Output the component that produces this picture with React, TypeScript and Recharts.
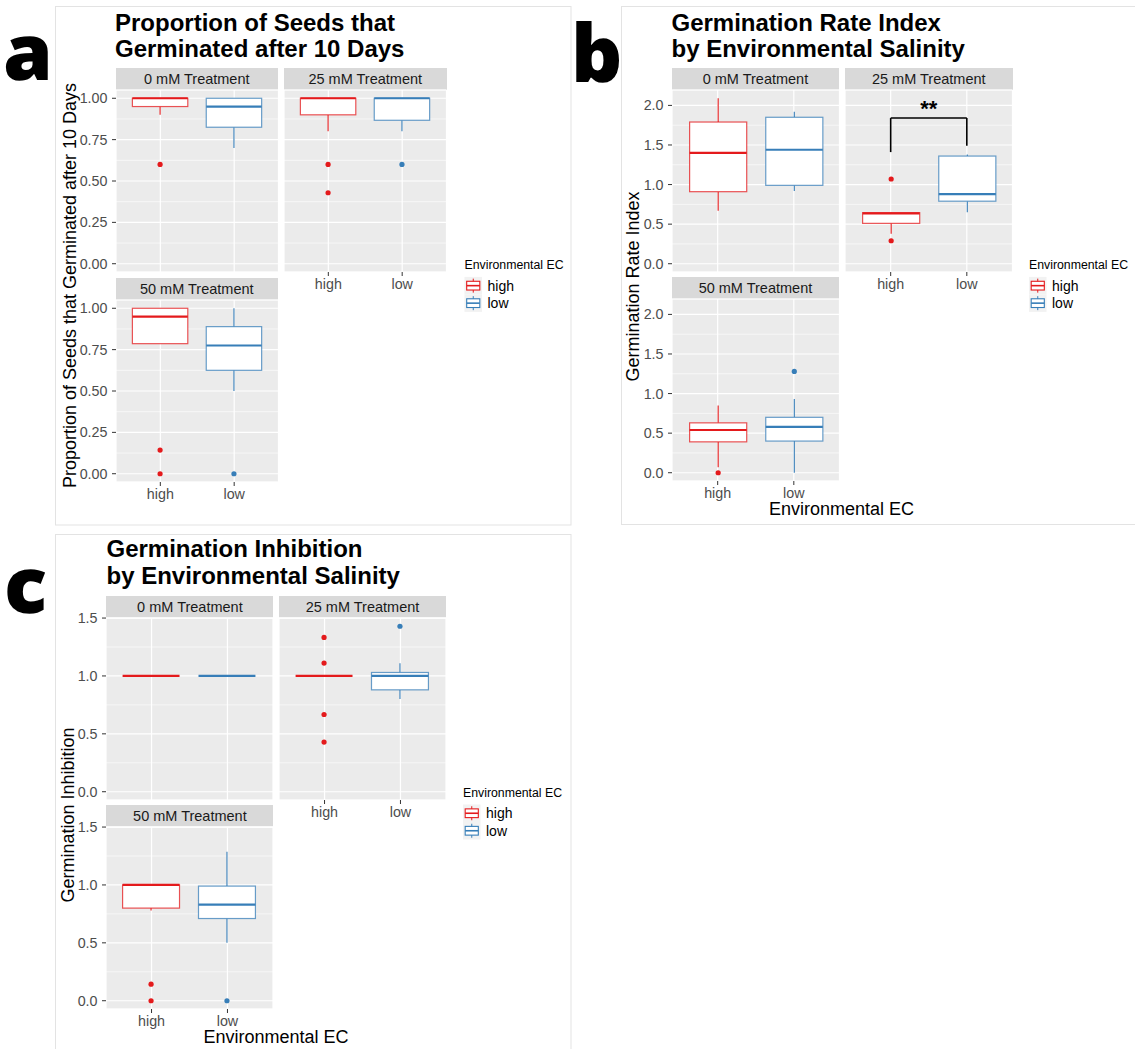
import React from 'react';
import { ComposedChart, Bar, XAxis, YAxis, CartesianGrid, ReferenceLine } from 'recharts';

const FONT = '"Liberation Sans", Arial, Helvetica, sans-serif';
const GROUPS = ['high', 'low'];
const GROUP_COLORS = ['#E41A1C', '#377EB8'];
const TREATMENTS = ['0 mM Treatment', '25 mM Treatment', '50 mM Treatment'];
const LEGEND_TITLE = 'Environmental EC';

// Box summaries per group (high, low): [lower whisker, q1, median, q3, upper whisker]
// (a) Proportion of seeds germinated after 10 days
const propGerm0 = [[0.9, 0.95, 1.0, 1.0, 1.0], [0.7, 0.825, 0.95, 1.0, 1.0]];
const propGerm0Out = [[0.6], []];
const propGerm25 = [[0.8, 0.9, 1.0, 1.0, 1.0], [0.8, 0.867, 1.0, 1.0, 1.0]];
const propGerm25Out = [[0.6, 0.429], [0.6]];
const propGerm50 = [[0.786, 0.786, 0.95, 1.0, 1.0], [0.5, 0.625, 0.775, 0.889, 1.0]];
const propGerm50Out = [[0.143, 0.0], [0.0]];
const propTicks = [0, 0.25, 0.5, 0.75, 1];
const propMinor = [0.125, 0.375, 0.625, 0.875];

// (b) Germination rate index
const rate0 = [[0.67, 0.91, 1.4, 1.79, 2.09], [0.92, 0.99, 1.44, 1.85, 1.92]];
const rate0Out = [[], []];
const rate25 = [[0.38, 0.51, 0.635, 0.645, 0.65], [0.65, 0.79, 0.88, 1.36, 1.38]];
const rate25Out = [[1.07, 0.29], []];
const rate50 = [[0.07, 0.39, 0.54, 0.63, 0.85], [0.0, 0.4, 0.58, 0.7, 0.93]];
const rate50Out = [[0.0], [1.28]];
const rateTicks = [0, 0.5, 1, 1.5, 2];
const rateMinor = [0.25, 0.75, 1.25, 1.75];
const rateBracket = [1.41, 1.84, 1.49]; // left leg end, bar height, right leg end
const rateSignif = '**';

// (c) Germination inhibition
const inhib0 = [[1, 1, 1, 1, 1], [1, 1, 1, 1, 1]];
const inhib0Out = [[], []];
const inhib25 = [[1, 1, 1, 1, 1], [0.8, 0.88, 1.0, 1.03, 1.11]];
const inhib25Out = [[1.333, 1.111, 0.667, 0.429], [1.429]];
const inhib50 = [[0.78, 0.8, 1.0, 1.0, 1.0], [0.5, 0.71, 0.83, 0.99, 1.286]];
const inhib50Out = [[0.143, 0.0], [0.0]];
const inhibTicks = [0, 0.5, 1, 1.5];
const inhibMinor = [0.25, 0.75, 1.25];

const STRIP_H = 22;
const PLOT_H = 182;
const Y_W = 44;
const X_H = 26;
const TOP_M = 10;
const TICK_FS = 14.3;

const LETTER_FACE = `@font-face {
  font-family: 'PanelLetter';
  src: local('Open Sans ExtraBold'), local('OpenSans-ExtraBold'), local('Open Sans'), local('OpenSans-Regular'), local('Open Sans Regular');
  font-weight: 300 800;
  ascent-override: 90%;
  descent-override: 24%;
  line-gap-override: 0%;
}`;

function buildRows(stats: number[][], outliers: number[][]) {
  return GROUPS.map((g, i) => ({
    group: g,
    color: GROUP_COLORS[i],
    lower: stats[i][0],
    q1: stats[i][1],
    median: stats[i][2],
    q3: stats[i][3],
    upper: stats[i][4],
    outliers: outliers[i],
    span: [0, 1],
  }));
}

function paddedDomain(list: number[][][]): [number, number] {
  const vals = list.flat(2);
  const lo = Math.min(...vals);
  const hi = Math.max(...vals);
  const pad = (hi - lo) * 0.05;
  return [lo - pad, hi + pad];
}

function BoxShape(props: any) {
  const { x, y, width, height, payload } = props;
  if (!payload) return null;
  const [r0, r1] = payload.span;
  const top = Math.min(y, y + height);
  const bottom = Math.max(y, y + height);
  const py = (v: number) => bottom - ((bottom - top) * (v - r0)) / (r1 - r0);
  const cx = x + width / 2;
  const c = payload.color;
  return (
    <g>
      <line x1={cx} x2={cx} y1={py(payload.upper)} y2={py(payload.q3)} stroke={c} strokeWidth={1.1} />
      <line x1={cx} x2={cx} y1={py(payload.q1)} y2={py(payload.lower)} stroke={c} strokeWidth={1.1} />
      <rect
        x={x}
        y={py(payload.q3)}
        width={width}
        height={Math.max(0, py(payload.q1) - py(payload.q3))}
        fill="#FFFFFF"
        stroke={c}
        strokeOpacity={0.75}
        strokeWidth={1.2}
      />
      <line x1={x} x2={x + width} y1={py(payload.median)} y2={py(payload.median)} stroke={c} strokeWidth={2.2} />
      {payload.outliers.map((o: number, i: number) => (
        <circle key={i} cx={cx} cy={py(o)} r={2.6} fill={c} />
      ))}
    </g>
  );
}

type PanelProps = {
  left: number;
  top: number;
  width: number;
  stats: number[][];
  outliers: number[][];
  domain: [number, number];
  ticks: number[];
  minor: number[];
  digits: number;
  title: string;
  showY: boolean;
  showX: boolean;
  bracket?: number[];
  signif?: string;
};

function Panel(p: PanelProps) {
  const rows = buildRows(p.stats, p.outliers);
  const pad = p.width * (2 * (0.6 / 2.2 - 0.25));
  const boxW = (0.75 * p.width) / 2.2;
  const yw = p.showY ? Y_W : 0;
  const lineStyle = { stroke: '#000000', strokeWidth: 1.6 };
  return (
    <div style={{ position: 'absolute', left: p.left - yw, top: p.top, width: p.width + yw, height: STRIP_H + PLOT_H + X_H }}>
      <div
        style={{
          position: 'absolute',
          left: yw,
          top: 0,
          width: p.width,
          height: STRIP_H,
          background: '#D9D9D9',
          color: '#1A1A1A',
          fontSize: 14.5,
          lineHeight: STRIP_H + 'px',
          textAlign: 'center',
          fontFamily: FONT,
        }}
      >
        {p.title}
      </div>
      <div style={{ position: 'absolute', left: 0, top: STRIP_H - TOP_M }}>
        <ComposedChart
          width={p.width + yw}
          height={TOP_M + PLOT_H + (p.showX ? X_H : 0)}
          data={rows}
          margin={{ top: TOP_M, right: 0, bottom: 0, left: 0 }}
          style={{ fontFamily: FONT }}
        >
          <CartesianGrid yAxisId="minor" vertical={false} stroke="#FFFFFF" strokeWidth={0.6} fill="#EBEBEB" fillOpacity={1} />
          <CartesianGrid stroke="#FFFFFF" strokeWidth={1.2} />
          <XAxis
            dataKey="group"
            type="category"
            padding={{ left: pad, right: pad }}
            hide={!p.showX}
            height={p.showX ? X_H : 0}
            axisLine={false}
            tickLine={{ stroke: '#333333' }}
            tickSize={4}
            tickMargin={2.5}
            tick={{ fill: '#4D4D4D', fontSize: TICK_FS }}
            interval={0}
          />
          <YAxis
            type="number"
            domain={p.domain}
            ticks={p.ticks}
            allowDataOverflow
            hide={!p.showY}
            width={Y_W}
            axisLine={false}
            tickLine={{ stroke: '#333333' }}
            tickSize={4}
            tickMargin={4.5}
            tick={{ fill: '#4D4D4D', fontSize: TICK_FS }}
            interval={0}
            tickFormatter={(v: number) => v.toFixed(p.digits)}
          />
          <YAxis yAxisId="minor" type="number" domain={p.domain} ticks={p.minor} allowDataOverflow hide interval={0} />
          <Bar dataKey="span" barSize={boxW} shape={BoxShape} isAnimationActive={false} />
          {p.bracket && (
            <ReferenceLine
              segment={[{ x: GROUPS[0], y: p.bracket[0] }, { x: GROUPS[0], y: p.bracket[1] }]}
              {...lineStyle}
              ifOverflow="visible"
            />
          )}
          {p.bracket && (
            <ReferenceLine
              segment={[{ x: GROUPS[0], y: p.bracket[1] }, { x: GROUPS[1], y: p.bracket[1] }]}
              {...lineStyle}
              ifOverflow="visible"
              label={{ value: p.signif, position: 'top', offset: 2, fill: '#000000', fontSize: 22, fontWeight: 'bold' }}
            />
          )}
          {p.bracket && (
            <ReferenceLine
              segment={[{ x: GROUPS[1], y: p.bracket[1] }, { x: GROUPS[1], y: p.bracket[2] }]}
              {...lineStyle}
              ifOverflow="visible"
            />
          )}
        </ComposedChart>
      </div>
    </div>
  );
}

function LegendBlock({ x, baseline }: { x: number; baseline: number }) {
  const k = 17.5;
  return (
    <g fontFamily={FONT}>
      <text x={x} y={baseline} fontSize={12.3} fill="#000000">
        {LEGEND_TITLE}
      </text>
      {GROUPS.map((g, i) => {
        const ky = baseline + 7.5 + i * k;
        const c = GROUP_COLORS[i];
        return (
          <g key={g}>
            <rect x={x} y={ky} width={k} height={k} fill="#F2F2F2" />
            <line x1={x + k / 2} x2={x + k / 2} y1={ky + k * 0.1} y2={ky + k * 0.9} stroke={c} strokeWidth={1} />
            <rect x={x + k * 0.125} y={ky + k * 0.25} width={k * 0.75} height={k * 0.5} fill="#FFFFFF" stroke={c} strokeWidth={1.1} />
            <line x1={x + k * 0.125} x2={x + k * 0.875} y1={ky + k / 2} y2={ky + k / 2} stroke={c} strokeWidth={1.6} />
            <text x={x + k + 5.5} y={ky + k / 2 + 5} fontSize={14} fill="#000000">
              {g}
            </text>
          </g>
        );
      })}
    </g>
  );
}

// baseline = top + 72 (ascent 0.9em of 80px)
function Letter({ text, left, baseline }: { text: string; left: number; baseline: number }) {
  return (
    <div
      style={{
        position: 'absolute',
        left,
        top: baseline - 72,
        fontFamily: 'PanelLetter, "Open Sans", "Noto Sans", sans-serif',
        fontWeight: 800,
        fontSize: 80,
        lineHeight: '91px',
        color: '#000000',
      }}
    >
      {text}
    </div>
  );
}

export default function App() {
  const propDomain = paddedDomain([propGerm0, propGerm25, propGerm50, propGerm0Out, propGerm25Out, propGerm50Out]);
  const rateDomain = paddedDomain([rate0, rate25, rate50, rate0Out, rate25Out, rate50Out]);
  const inhibDomain = paddedDomain([inhib0, inhib25, inhib50, inhib0Out, inhib25Out, inhib50Out]);

  const titleStyle = { fontFamily: FONT, fontWeight: 'bold' as const, fontSize: 24, fill: '#000000' };
  const axisTitle = { fontFamily: FONT, fontSize: 18, fill: '#000000' };

  return (
    <div style={{ position: 'absolute', left: 0, top: 0, width: 1135, height: 1049, background: '#FFFFFF', overflow: 'hidden' }}>
      <style>{LETTER_FACE}</style>
      <svg width={1135} height={1049} style={{ position: 'absolute', left: 0, top: 0 }}>
        {/* figure frames */}
        <rect x={55.5} y={6.5} width={515.5} height={518.5} fill="none" stroke="#E3E3E3" strokeWidth={1} />
        <rect x={621.5} y={6.5} width={520} height={518} fill="none" stroke="#E3E3E3" strokeWidth={1} />
        <rect x={55.5} y={534.5} width={515.5} height={520} fill="none" stroke="#E3E3E3" strokeWidth={1} />

        {/* titles */}
        <text x={115} y={31} {...titleStyle}>Proportion of Seeds that</text>
        <text x={115} y={57} {...titleStyle}>Germinated after 10 Days</text>
        <text x={671.5} y={30.5} {...titleStyle}>Germination Rate Index</text>
        <text x={671.5} y={56.5} {...titleStyle}>by Environmental Salinity</text>
        <text x={106.5} y={557} {...titleStyle}>Germination Inhibition</text>
        <text x={106.5} y={583.5} {...titleStyle}>by Environmental Salinity</text>

        {/* axis titles */}
        <text transform="translate(76,285.5) rotate(-90)" textAnchor="middle" {...axisTitle}>
          Proportion of Seeds that Germinated after 10 Days
        </text>
        <text transform="translate(639,286.5) rotate(-90)" textAnchor="middle" {...axisTitle}>
          Germination Rate Index
        </text>
        <text transform="translate(74,815) rotate(-90)" textAnchor="middle" {...axisTitle}>
          Germination Inhibition
        </text>
        <text x={841.5} y={515} textAnchor="middle" {...axisTitle}>{LEGEND_TITLE}</text>
        <text x={276} y={1043} textAnchor="middle" {...axisTitle}>{LEGEND_TITLE}</text>

        {/* legends */}
        <LegendBlock x={464.5} baseline={269.4} />
        <LegendBlock x={1029} baseline={269.4} />
        <LegendBlock x={463} baseline={797} />
      </svg>

      <Letter text="a" left={2.5} baseline={80} />
      <Letter text="b" left={571} baseline={82} />
      <Letter text="c" left={4} baseline={613} />

      {/* (a) */}
      <Panel left={115.5} top={68} width={162.5} stats={propGerm0} outliers={propGerm0Out} domain={propDomain} ticks={propTicks} minor={propMinor} digits={2} title={TREATMENTS[0]} showY showX={false} />
      <Panel left={284} top={68} width={162.5} stats={propGerm25} outliers={propGerm25Out} domain={propDomain} ticks={propTicks} minor={propMinor} digits={2} title={TREATMENTS[1]} showY={false} showX />
      <Panel left={115.5} top={278} width={162.5} stats={propGerm50} outliers={propGerm50Out} domain={propDomain} ticks={propTicks} minor={propMinor} digits={2} title={TREATMENTS[2]} showY showX />

      {/* (b) */}
      <Panel left={671.7} top={67.7} width={167.5} stats={rate0} outliers={rate0Out} domain={rateDomain} ticks={rateTicks} minor={rateMinor} digits={1} title={TREATMENTS[0]} showY showX={false} />
      <Panel left={845} top={67.7} width={167.5} stats={rate25} outliers={rate25Out} domain={rateDomain} ticks={rateTicks} minor={rateMinor} digits={1} title={TREATMENTS[1]} showY={false} showX bracket={rateBracket} signif={rateSignif} />
      <Panel left={671.7} top={277.3} width={167.5} stats={rate50} outliers={rate50Out} domain={rateDomain} ticks={rateTicks} minor={rateMinor} digits={1} title={TREATMENTS[2]} showY showX />

      {/* (c) */}
      <Panel left={106.4} top={595.7} width={167} stats={inhib0} outliers={inhib0Out} domain={inhibDomain} ticks={inhibTicks} minor={inhibMinor} digits={1} title={TREATMENTS[0]} showY showX={false} />
      <Panel left={279} top={595.7} width={167} stats={inhib25} outliers={inhib25Out} domain={inhibDomain} ticks={inhibTicks} minor={inhibMinor} digits={1} title={TREATMENTS[1]} showY={false} showX />
      <Panel left={106.4} top={805} width={167} stats={inhib50} outliers={inhib50Out} domain={inhibDomain} ticks={inhibTicks} minor={inhibMinor} digits={1} title={TREATMENTS[2]} showY showX />
    </div>
  );
}
